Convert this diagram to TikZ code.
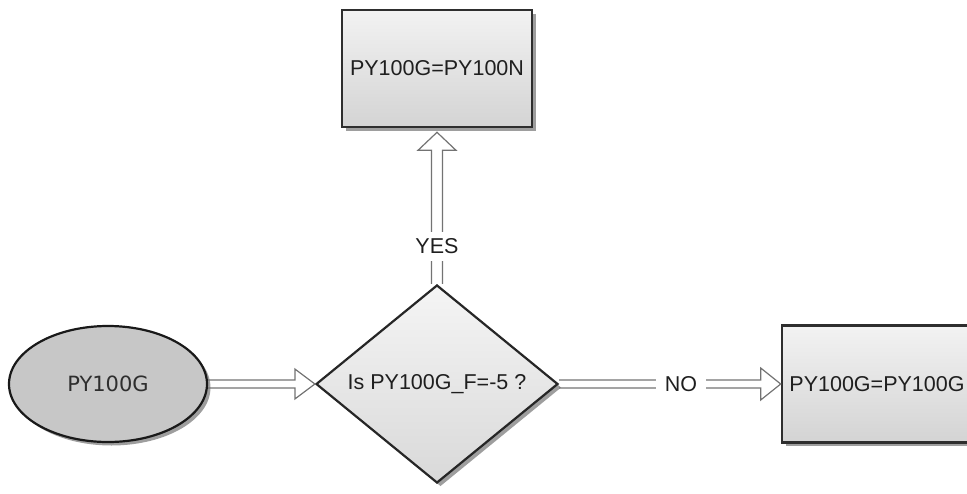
\documentclass[tikz,border=0pt]{standalone}
\usepackage{fontspec}
\setmainfont{Liberation Sans}
\newfontfamily\dejavu{DejaVu Sans}
\usetikzlibrary{shapes.geometric,shadows,calc}
\begin{document}
\begin{tikzpicture}[x=1pt,y=-1pt,
  shd/.style={drop shadow={shadow xshift=3.5pt,shadow yshift=-3.5pt,fill=black!38,opacity=1}},
  procbox/.style={rectangle,draw=black!82,line width=2.6pt,top color=black!5,bottom color=black!17,shd,
    inner sep=0pt,minimum width=190pt,minimum height=117pt,font=\fontsize{21.5}{25}\selectfont,text=black!88},
  decision/.style={diamond,draw=black!85,line width=2.2pt,top color=black!4,bottom color=black!15,shd,
    inner sep=0pt,minimum width=242pt,minimum height=198pt,font=\fontsize{21.5}{25}\selectfont,text=black!88},
  startnode/.style={ellipse,draw=black!90,line width=2.2pt,fill=black!22,shd,
    inner sep=0pt,minimum width=198pt,minimum height=116pt,font=\dejavu\fontsize{21}{25}\selectfont,text=black!82},
  conn/.style={draw=black!55,line width=1.2pt,line join=miter},
  lbl/.style={fill=white,inner xsep=9pt,inner ysep=7pt,font=\fontsize{21.5}{25}\selectfont,text=black!88}
]
\useasboundingbox (0,0) rectangle (967,493);
\node[procbox] (t) at (437,68.5) {PY100G=PY100N};
\node[decision] (d) at (437,384) {Is PY100G\_F=-5 ?};
\node[startnode] (e) at (108,384) {PY100G};
\node[procbox] (r) at (877,384) {PY100G=PY100G};
% start -> decision
\path[conn] ($(e.east)+(0,-4)$) -- ($(d.west)+(-20,-4)$) -- ($(d.west)+(-20,-15)$) -- (d.west)
  -- ($(d.west)+(-20,15)$) -- ($(d.west)+(-20,4)$) -- ($(e.east)+(0,4)$);
% decision -> NO box
\path[conn] ($(d.east)+(0,-4)$) -- ($(r.west)+(-20,-4)$) -- ($(r.west)+(-20,-16)$) -- (r.west)
  -- ($(r.west)+(-20,16)$) -- ($(r.west)+(-20,4)$) -- ($(d.east)+(0,4)$);
\node[lbl] (no) at ($(d.east)!0.55!(r.west)$) {NO};
% decision -> YES box
\coordinate (tip) at ($(t.south)+(0,4)$);
\path[conn] ($(d.north)+(-5.5,0)$) -- ($(tip)+(-5.5,18)$) -- ($(tip)+(-19,18)$) -- (tip)
  -- ($(tip)+(19,18)$) -- ($(tip)+(5.5,18)$) -- ($(d.north)+(5.5,0)$);
\node[lbl] (yes) at ($(d.north)!0.24!(t.south)$) {YES};
\end{tikzpicture}
\end{document}
